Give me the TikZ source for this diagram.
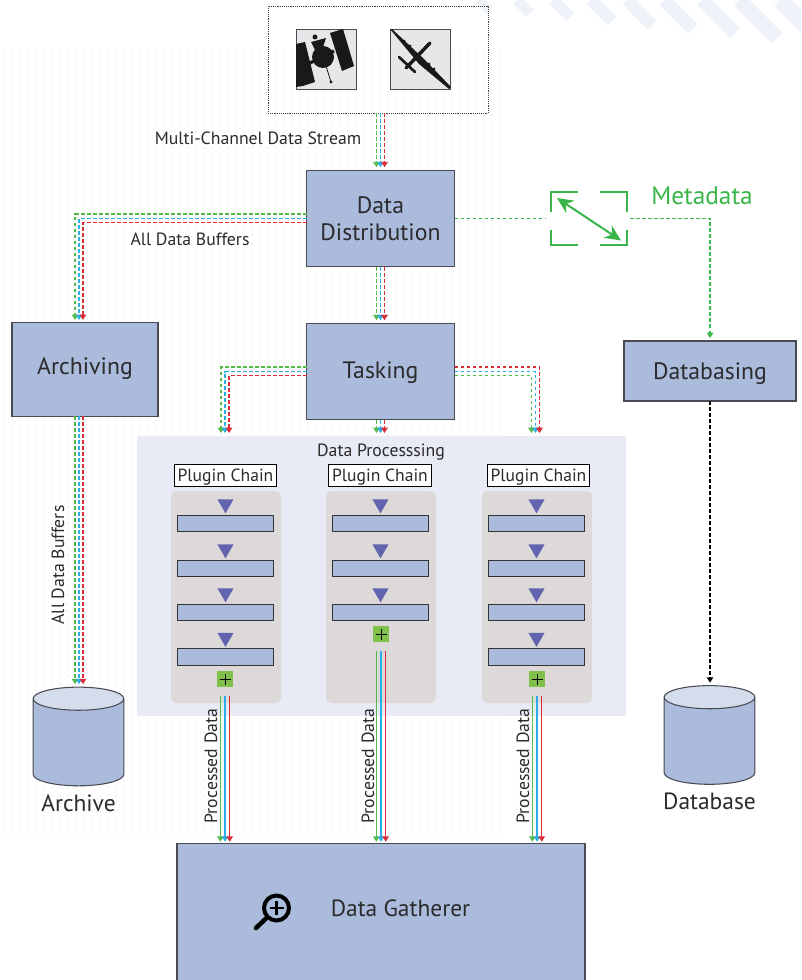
\documentclass[tikz,border=0pt]{standalone}
\usepackage{fontspec}
\setmainfont{PT Sans}
\usetikzlibrary{
    shapes.geometric,
    arrows.meta,
    positioning,
    calc
}
\definecolor{boxblue}{HTML}{ABBBDB}
\definecolor{boxedge}{HTML}{4A4A55}
\definecolor{inktext}{HTML}{2B2A2C}
\definecolor{flowgreen}{HTML}{55BB48}
\definecolor{flowblue}{HTML}{2BAEE4}
\definecolor{flowred}{HTML}{DB2C38}
\definecolor{metagreen}{HTML}{39B54A}
\definecolor{panelblue}{HTML}{E8EBF5}
\definecolor{chaingray}{HTML}{DCD9D8}
\definecolor{arrowviolet}{HTML}{6264B0}
\definecolor{plusgreen}{HTML}{7FC14B}
\definecolor{iconback}{HTML}{E6E7E8}
\definecolor{stripeblue}{HTML}{EEF3FA}
\tikzset{
    unit/.style={draw=boxedge, fill=boxblue, line width=0.9pt, outer sep=0pt, text=inktext, font=\fontsize{17.8}{21}\selectfont, align=center},
    store/.style={cylinder, shape border rotate=90, draw=boxedge, line width=0.8pt, aspect=2.6, cylinder uses custom fill, cylinder end fill=boxblue!50!white, cylinder body fill=boxblue, minimum width=68pt, minimum height=74pt, outer sep=0pt},
    caption/.style={text=inktext, font=\fontsize{13.3}{16}\selectfont, inner sep=0pt},
    bigcaption/.style={text=inktext, font=\fontsize{17.6}{21}\selectfont, inner sep=0pt},
    icon/.style={draw=boxedge, fill=iconback, line width=0.8pt, minimum width=45.5pt, minimum height=45.5pt, outer sep=0pt},
    chainlabel/.style={draw=black, fill=white, line width=0.7pt, minimum width=77pt, minimum height=17pt, inner sep=0pt, text depth=1pt, text=inktext, font=\fontsize{13.2}{16}\selectfont},
    chainbar/.style={draw=black!80, fill=boxblue, line width=0.7pt, minimum width=72pt, minimum height=12.5pt, outer sep=0pt},
    chainstep/.style={isosceles triangle, isosceles triangle apex angle=60, shape border rotate=-90, fill=arrowviolet, minimum height=10.5pt, inner sep=0pt},
    merger/.style={fill=plusgreen, minimum width=12pt, minimum height=12pt, inner sep=0pt, outer sep=0pt},
    flow/.style={line width=1.1pt, dash pattern=on 2.8pt off 1.7pt, -{Triangle[length=4pt,width=4.8pt]}, shorten >=2.2pt},
    solidflow/.style={line width=1.1pt, -{Triangle[length=4pt,width=4.8pt]}, shorten >=1.2pt},
    bracket/.style={draw=metagreen, line width=1.5pt}
}
\begin{document}
\begin{tikzpicture}[x=0.75pt, y=-0.75pt]
    \useasboundingbox (0,0) rectangle (801,980);
    \clip (0,0) rectangle (801,980);

    % Faint page texture
    \foreach \tx in {4,12,...,500} {
        \draw[black!3, line width=2pt, dash pattern=on 2pt off 4pt] (\tx,50) -- (\tx,835);
    }
    \foreach \sx/\sy/\sw in {490/11/7, 530/13/8, 570/17/8.5, 612/21/9, 652/25/9.5, 693/29/10, 735/33/10.5, 777/38/11, 825/45/12} {
        \draw[stripeblue, line width=\sw pt] (\sx-\sy,0) -- (\sx,\sy);
    }

    % Sources
    \node[draw=black!75, densely dotted, minimum width=165pt, minimum height=80pt, outer sep=0pt] (source) at (378,59.5) {};
    \node[icon] (probe) at (326.5,59.5) {};
    \node[icon] (plane) at (420.5,59.5) {};

    % Probe icon
    \begin{scope}
        \clip (probe.south west) rectangle (probe.north east);
        \fill[black!90] (296,44) -- (305,42) -- (315,82) -- (303,86) -- (296,87) -- cycle;
        \fill[black!90] (330,33) -- (343,29) -- (354,66) -- (342,71) -- cycle;
        \draw[black!90, line width=2.5pt] (308,64) -- (334,51);
        \fill[black!90] (323,57) circle (11);
        \fill[black!90] (311,42) -- (326,38) -- (322,50) -- (315,50) -- cycle;
        \fill[black!90] (315,37) circle (2.5);
        \draw[black!90, line width=0.6pt] (326,66) -- (331,82);
        \fill[black!90] (331,82) circle (1.7);
    \end{scope}

    % Plane icon
    \begin{scope}
        \clip (plane.south west) rectangle (plane.north east);
        \fill[black!90] (390,29) -- (392,29) -- (424,59) -- (451,87) -- (449,89) -- (419,64) -- cycle;
        \draw[black!90, line width=2.6pt, line cap=round] (430,43) -- (406,68);
        \draw[black!90, line width=2pt, line cap=round] (399,57) -- (415,72);
        \fill[black!90] (404,41) circle (1.5) (410,46) circle (1.5) (429,64) circle (1.5) (434,69) circle (1.5);
    \end{scope}

    % Main units
    \node[unit, minimum width=111pt, minimum height=72.5pt] (dist) at (380.5,218.5) {Data\\[-1pt]Distribution};
    \node[unit, minimum width=111pt, minimum height=72.5pt, text depth=2.5pt] (tasking) at (380.5,371.5) {Tasking};
    \node[unit, minimum width=109.5pt, minimum height=70pt, text depth=5.5pt] (archiving) at (85,369.5) {Archiving};
    \node[unit, minimum width=129pt, minimum height=45pt, text depth=0pt] (dbing) at (710,371) {Databasing};
    \node[unit, minimum width=306pt, minimum height=118pt] (gatherer) at (381,922) {};
    \node[bigcaption] (gatherlabel) at (400.5,908) {Data Gatherer};

    % Stores
    \node[store] (archive) at (78.5,745) {};
    \node[bigcaption, below=6.5pt of archive.south] (archivelabel) {Archive};
    \node[store] (dbase) at (709.5,743.5) {};
    \node[bigcaption, below=6.5pt of dbase.south] (dbaselabel) {Database};

    % Data processing panel
    \fill[panelblue] (137,436) rectangle (626,716);
    \node[caption] (proclabel) at (381,452) {Data Processsing};

    % Left chain
    \fill[chaingray, rounded corners=4pt] (171,491) rectangle (281,703);
    \node[chainlabel] (labela) at (225.5,475.5) {Plugin Chain};
    \foreach \by in {523.5,568.5,612.5,657} {
        \node[chainbar] at (225.5,\by) {};
        \node[chainstep] at (225.5,\by-19.5) {};
    }
    \node[merger] (plusa) at (225,679) {};

    % Middle chain
    \fill[chaingray, rounded corners=4pt] (326,491) rectangle (436,703);
    \node[chainlabel] (labelb) at (380,475.5) {Plugin Chain};
    \foreach \by in {523.5,568.5,612.5} {
        \node[chainbar] at (380.5,\by) {};
        \node[chainstep] at (380.5,\by-19.5) {};
    }
    \node[merger] (plusb) at (381,634) {};

    % Right chain
    \fill[chaingray, rounded corners=4pt] (482,491) rectangle (592,703);
    \node[chainlabel] (labelc) at (538.5,475.5) {Plugin Chain};
    \foreach \by in {523.5,568.5,612.5,657} {
        \node[chainbar] at (536.5,\by) {};
        \node[chainstep] at (536.5,\by-19.5) {};
    }
    \node[merger] (plusc) at (537,679) {};

    % Plus marks
    \draw[black, line width=0.7pt] (plusa.center) +(-5.5,0) -- +(5.5,0) +(0,-5.5) -- +(0,5.5);
    \draw[black, line width=0.7pt] (plusb.center) +(-5.5,0) -- +(5.5,0) +(0,-5.5) -- +(0,5.5);
    \draw[black, line width=0.7pt] (plusc.center) +(-5.5,0) -- +(5.5,0) +(0,-5.5) -- +(0,5.5);

    % Stream into distribution
    \draw[flow, flowgreen] ([xshift=-3pt]dist.north |- source.south) -- ([xshift=-3pt]dist.north);
    \draw[flow, flowblue] (dist.north |- source.south) -- (dist.north);
    \draw[flow, flowred] ([xshift=3pt]dist.north |- source.south) -- ([xshift=3pt]dist.north);
    \node[caption] (streamlabel) at (258,138) {Multi-Channel Data Stream};

    % Distribution to archiving
    \draw[flow, flowgreen] ([yshift=3.3pt]dist.west) -| ([xshift=-7.5pt]archiving.north);
    \draw[flow, flowblue] (dist.west) -| ([xshift=-4.5pt]archiving.north);
    \draw[flow, flowred] ([yshift=-3pt]dist.west) -| ([xshift=-1.5pt]archiving.north);
    \node[caption] (bufferlabel) at (190,239) {All Data Buffers};

    % Distribution to tasking
    \draw[flow, flowgreen] ([xshift=-3pt]dist.south) -- ([xshift=-3pt]tasking.north);
    \draw[flow, flowblue] (dist.south) -- (tasking.north);
    \draw[flow, flowred] ([xshift=3pt]dist.south) -- ([xshift=3pt]tasking.north);

    % Tasking to chains
    \coordinate (chaintopa) at (225,436);
    \coordinate (chaintopb) at (380.5,436);
    \coordinate (chaintopc) at (535.5,436);
    \draw[flow, flowgreen] ([yshift=3.3pt]tasking.west) -| ([xshift=-3pt]chaintopa);
    \draw[flow, flowblue] (tasking.west) -| (chaintopa);
    \draw[flow, flowred] ([yshift=-3pt]tasking.west) -| ([xshift=3pt]chaintopa);
    \draw[flow, flowgreen] ([xshift=-3pt]tasking.south) -- ([xshift=-3pt]chaintopb);
    \draw[flow, flowblue] (tasking.south) -- (chaintopb);
    \draw[flow, flowred] ([xshift=3pt]tasking.south) -- ([xshift=3pt]chaintopb);
    \draw[flow, flowgreen] ([yshift=-3pt]tasking.east) -| ([xshift=-3pt]chaintopc);
    \draw[flow, flowblue] (tasking.east) -| (chaintopc);
    \draw[flow, flowred] ([yshift=3.3pt]tasking.east) -| ([xshift=3pt]chaintopc);

    % Archiving to archive
    \draw[flow, flowgreen] ([xshift=-7.5pt]archiving.south) -- ([xshift=-7.5pt]archiving.south |- archive.top);
    \draw[flow, flowblue] ([xshift=-4.5pt]archiving.south) -- ([xshift=-4.5pt]archiving.south |- archive.top);
    \draw[flow, flowred] ([xshift=-1.5pt]archiving.south) -- ([xshift=-1.5pt]archiving.south |- archive.top);
    \node[caption, rotate=90] (sidelabel) at (58,565) {All Data Buffers};

    % Chains to gatherer
    \draw[solidflow, flowgreen] ([xshift=-3.5pt,yshift=-7pt]plusa.south) -- ([xshift=-3.5pt]plusa.south |- gatherer.north);
    \draw[solidflow, flowblue] ([yshift=-7pt]plusa.south) -- (plusa.south |- gatherer.north);
    \draw[solidflow, flowred] ([xshift=3.5pt,yshift=-7pt]plusa.south) -- ([xshift=3.5pt]plusa.south |- gatherer.north);
    \draw[solidflow, flowgreen] ([xshift=-3.5pt,yshift=-7pt]plusb.south) -- ([xshift=-3.5pt]plusb.south |- gatherer.north);
    \draw[solidflow, flowblue] ([yshift=-7pt]plusb.south) -- (plusb.south |- gatherer.north);
    \draw[solidflow, flowred] ([xshift=3.5pt,yshift=-7pt]plusb.south) -- ([xshift=3.5pt]plusb.south |- gatherer.north);
    \draw[solidflow, flowgreen] ([xshift=-3.5pt,yshift=-7pt]plusc.south) -- ([xshift=-3.5pt]plusc.south |- gatherer.north);
    \draw[solidflow, flowblue] ([yshift=-7pt]plusc.south) -- (plusc.south |- gatherer.north);
    \draw[solidflow, flowred] ([xshift=3.5pt,yshift=-7pt]plusc.south) -- ([xshift=3.5pt]plusc.south |- gatherer.north);
    \node[caption, rotate=90] (proca) at (211,766) {Processed Data};
    \node[caption, rotate=90] (procb) at (368,766) {Processed Data};
    \node[caption, rotate=90] (procc) at (523,766) {Processed Data};

    % Metadata
    \coordinate (metabox) at (589,218.5);
    \draw[bracket] ($(metabox)+(-38,-6.5)$) -- ($(metabox)+(-38,-26.5)$) -- ($(metabox)+(-11,-26.5)$);
    \draw[bracket] ($(metabox)+(11,-26.5)$) -- ($(metabox)+(38,-26.5)$) -- ($(metabox)+(38,-6.5)$);
    \draw[bracket] ($(metabox)+(-38,11.5)$) -- ($(metabox)+(-38,26.5)$) -- ($(metabox)+(-11,26.5)$);
    \draw[bracket] ($(metabox)+(11,26.5)$) -- ($(metabox)+(38,26.5)$) -- ($(metabox)+(38,11.5)$);
    \draw[metagreen, line width=1.5pt, {Stealth[length=12pt,width=11pt]}-{Stealth[length=12pt,width=11pt]}] ($(metabox)+(-32,-20.5)$) -- ($(metabox)+(32,22)$);
    \node[text=metagreen, font=\fontsize{19}{23}\selectfont, inner sep=0pt] (metalabel) at (702,196) {Metadata};
    \draw[flow, metagreen, -] (dist.east) -- ($(metabox)+(-41,0)$);
    \draw[flow, metagreen] ($(metabox)+(41,0)$) -| (dbing.north);
    \draw[flow, black, line width=0.8pt] (dbing.south) -- (dbing.south |- dbase.top);

    % Magnifier
    \draw[black, line width=3pt] (276.5,908) circle (12.5);
    \draw[black, line width=1.6pt] (269.5,908) -- (283.5,908) (276.5,901) -- (276.5,915);
    \draw[black, line width=3.4pt, line cap=round] (266,918.5) -- (256,928);
\end{tikzpicture}
\end{document}
